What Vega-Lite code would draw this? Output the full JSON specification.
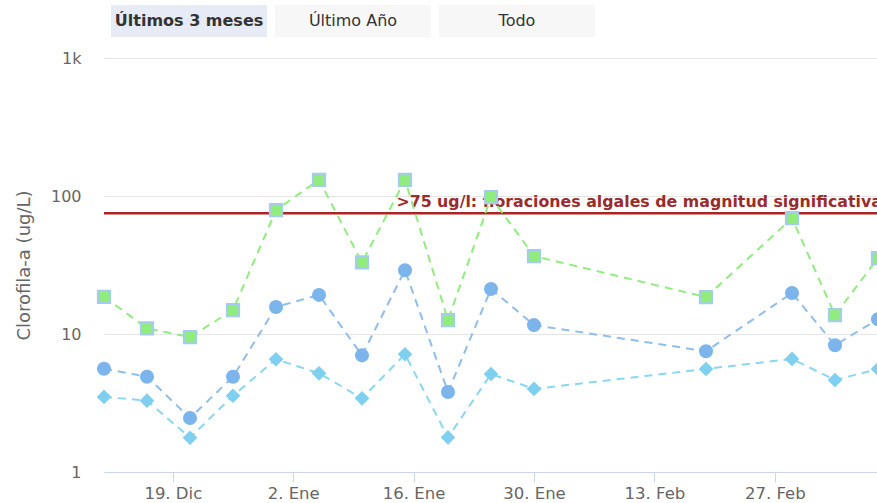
{
  "$schema": "https://vega.github.io/schema/vega-lite/v6.json",
  "background": "white",
  "padding": {"left": 15, "top": 5, "right": 0, "bottom": 0},
  "bounds": "flush",
  "spacing": 21,
  "config": {"view": {"stroke": null}, "font": "DejaVu Sans"},
  "datasets": {
    "botones": [
      {"boton": "Últimos 3 meses", "seleccionado": true},
      {"boton": "Último Año", "seleccionado": false},
      {"boton": "Todo", "seleccionado": false}
    ],
    "umbral": [
      {"fecha": "2017-01-14", "valor": 75, "etiqueta": ">75 ug/l: floraciones algales de magnitud significativa"}
    ],
    "clorofila": [
      {"fecha": "2016-12-11", "serie": "Serie 1", "valor": 18.6},
      {"fecha": "2016-12-16", "serie": "Serie 1", "valor": 11.0},
      {"fecha": "2016-12-21", "serie": "Serie 1", "valor": 9.5},
      {"fecha": "2016-12-26", "serie": "Serie 1", "valor": 14.9},
      {"fecha": "2016-12-31", "serie": "Serie 1", "valor": 79},
      {"fecha": "2017-01-05", "serie": "Serie 1", "valor": 131},
      {"fecha": "2017-01-10", "serie": "Serie 1", "valor": 33},
      {"fecha": "2017-01-15", "serie": "Serie 1", "valor": 131},
      {"fecha": "2017-01-20", "serie": "Serie 1", "valor": 12.6},
      {"fecha": "2017-01-25", "serie": "Serie 1", "valor": 98},
      {"fecha": "2017-01-30", "serie": "Serie 1", "valor": 36.7},
      {"fecha": "2017-02-19", "serie": "Serie 1", "valor": 18.5},
      {"fecha": "2017-03-01", "serie": "Serie 1", "valor": 69},
      {"fecha": "2017-03-06", "serie": "Serie 1", "valor": 13.7},
      {"fecha": "2017-03-11", "serie": "Serie 1", "valor": 35.5},
      {"fecha": "2016-12-11", "serie": "Serie 2", "valor": 5.6},
      {"fecha": "2016-12-16", "serie": "Serie 2", "valor": 4.9},
      {"fecha": "2016-12-21", "serie": "Serie 2", "valor": 2.46},
      {"fecha": "2016-12-26", "serie": "Serie 2", "valor": 4.9},
      {"fecha": "2016-12-31", "serie": "Serie 2", "valor": 15.7},
      {"fecha": "2017-01-05", "serie": "Serie 2", "valor": 19.2},
      {"fecha": "2017-01-10", "serie": "Serie 2", "valor": 7.0},
      {"fecha": "2017-01-15", "serie": "Serie 2", "valor": 29},
      {"fecha": "2017-01-20", "serie": "Serie 2", "valor": 3.8},
      {"fecha": "2017-01-25", "serie": "Serie 2", "valor": 21.2},
      {"fecha": "2017-01-30", "serie": "Serie 2", "valor": 11.6},
      {"fecha": "2017-02-19", "serie": "Serie 2", "valor": 7.5},
      {"fecha": "2017-03-01", "serie": "Serie 2", "valor": 19.8},
      {"fecha": "2017-03-06", "serie": "Serie 2", "valor": 8.3},
      {"fecha": "2017-03-11", "serie": "Serie 2", "valor": 12.8},
      {"fecha": "2016-12-11", "serie": "Serie 3", "valor": 3.5},
      {"fecha": "2016-12-16", "serie": "Serie 3", "valor": 3.29},
      {"fecha": "2016-12-21", "serie": "Serie 3", "valor": 1.77},
      {"fecha": "2016-12-26", "serie": "Serie 3", "valor": 3.57},
      {"fecha": "2016-12-31", "serie": "Serie 3", "valor": 6.56},
      {"fecha": "2017-01-05", "serie": "Serie 3", "valor": 5.19},
      {"fecha": "2017-01-10", "serie": "Serie 3", "valor": 3.42},
      {"fecha": "2017-01-15", "serie": "Serie 3", "valor": 7.13},
      {"fecha": "2017-01-20", "serie": "Serie 3", "valor": 1.78},
      {"fecha": "2017-01-25", "serie": "Serie 3", "valor": 5.13},
      {"fecha": "2017-01-30", "serie": "Serie 3", "valor": 4.0},
      {"fecha": "2017-02-19", "serie": "Serie 3", "valor": 5.58},
      {"fecha": "2017-03-01", "serie": "Serie 3", "valor": 6.6},
      {"fecha": "2017-03-06", "serie": "Serie 3", "valor": 4.64},
      {"fecha": "2017-03-11", "serie": "Serie 3", "valor": 5.58}
    ]
  },
  "vconcat": [
    {
      "width": 498,
      "height": 32,
      "data": {"name": "botones"},
      "encoding": {
        "x": {"field": "boton", "type": "nominal", "sort": null, "axis": null,
              "scale": {"paddingInner": 0.049, "paddingOuter": 0.043}}
      },
      "layer": [
        {"mark": {"type": "bar"},
         "encoding": {"fill": {"condition": {"test": "datum.seleccionado", "value": "#e6ebf5"}, "value": "#f7f7f7"}}},
        {"transform": [{"filter": "datum.seleccionado"}],
         "mark": {"type": "text", "fontSize": 16, "fontWeight": "bold", "color": "#333333"},
         "encoding": {"text": {"field": "boton"}}},
        {"transform": [{"filter": "!datum.seleccionado"}],
         "mark": {"type": "text", "fontSize": 16, "fontWeight": "normal", "color": "#333333"},
         "encoding": {"text": {"field": "boton"}}}
      ]
    },
    {
      "width": 774,
      "height": 414,
      "encoding": {
        "x": {"field": "fecha", "type": "temporal",
              "scale": {"type": "utc", "domain": [{"year": 2016, "month": 12, "date": 11, "utc": true}, {"year": 2017, "month": 3, "date": 11, "utc": true}]},
              "axis": {"title": null, "grid": false,
                       "values": [{"year": 2016, "month": 12, "date": 19, "utc": true}, {"year": 2017, "month": 1, "date": 2, "utc": true}, {"year": 2017, "month": 1, "date": 16, "utc": true}, {"year": 2017, "month": 1, "date": 30, "utc": true}, {"year": 2017, "month": 2, "date": 13, "utc": true}, {"year": 2017, "month": 2, "date": 27, "utc": true}],
                       "labelExpr": "utcdate(datum.value) + '. ' + ['Ene','Feb','Mar','Abr','May','Jun','Jul','Ago','Sep','Oct','Nov','Dic'][utcmonth(datum.value)]",
                       "domainColor": "#ccd6eb", "tickColor": "#ccd6eb", "tickSize": 10,
                       "labelFontSize": 16.5, "labelColor": "#666666", "labelPadding": 3}},
        "y": {"field": "valor", "type": "quantitative",
              "scale": {"type": "log", "domain": [1, 1000]},
              "axis": {"values": [1, 10, 100, 1000], "format": "~s", "title": "Clorofila-a (ug/L)",
                       "titleFontSize": 18, "titleFontWeight": "normal", "titleColor": "#666666", "titlePadding": 17,
                       "labelFontSize": 16, "labelColor": "#666666", "labelPadding": 23,
                       "domain": false, "ticks": false, "gridColor": "#e6e6e6"}}
      },
      "layer": [
        {"data": {"name": "umbral"},
         "mark": {"type": "rule", "color": "#ad2323", "strokeWidth": 2.5},
         "encoding": {"x": null}},
        {"data": {"name": "umbral"},
         "mark": {"type": "text", "align": "left", "baseline": "alphabetic", "dy": -6, "fontSize": 15.8, "fontWeight": "bold", "color": "#9b2c2c", "clip": true},
         "encoding": {"text": {"field": "etiqueta"}}},
        {"data": {"name": "clorofila"},
         "mark": {"type": "line", "strokeWidth": 2, "strokeDash": [8, 6]},
         "encoding": {"color": {"field": "serie", "type": "nominal", "legend": null,
                                "scale": {"domain": ["Serie 1", "Serie 2", "Serie 3"], "range": ["#90ed7d", "#8fbdec", "#8ad7f0"]}}}},
        {"data": {"name": "clorofila"},
         "mark": {"type": "point", "filled": true, "opacity": 1, "strokeWidth": 2},
         "encoding": {
           "shape": {"field": "serie", "type": "nominal", "legend": null,
                     "scale": {"domain": ["Serie 1", "Serie 2", "Serie 3"], "range": ["square", "circle", "diamond"]}},
           "size": {"field": "serie", "type": "nominal", "legend": null,
                    "scale": {"domain": ["Serie 1", "Serie 2", "Serie 3"], "range": [150, 140, 170]}},
           "fill": {"field": "serie", "type": "nominal", "legend": null,
                    "scale": {"domain": ["Serie 1", "Serie 2", "Serie 3"], "range": ["#90ed7d", "#7cb5ec", "#7fd0f0"]}},
           "stroke": {"field": "serie", "type": "nominal", "legend": null,
                      "scale": {"domain": ["Serie 1", "Serie 2", "Serie 3"], "range": ["#a6cbf0", "#7cb5ec", "#7fd0f0"]}}
         }}
      ]
    }
  ]
}
